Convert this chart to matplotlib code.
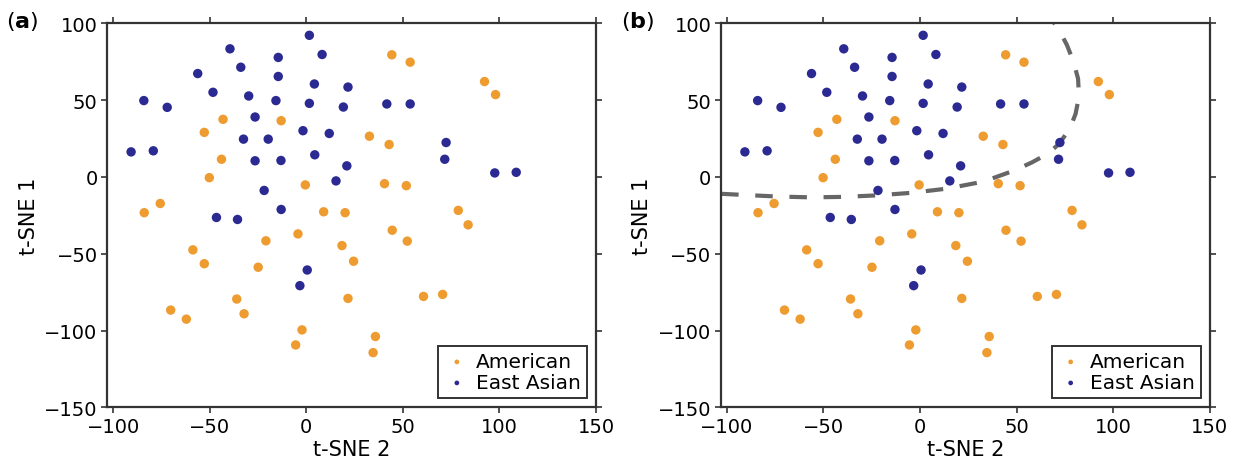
import matplotlib
matplotlib.use("Agg")
import matplotlib.pyplot as plt

plt.rcParams.update({"font.family": ["DejaVu Sans"], "font.size": 14})

# t-SNE coordinates: (t-SNE 2, t-SNE 1)
american_x = [-43.1, -13, -52.8, -43.9, -50.2, -0.5, -75.6, -83.9, 9, 20.1,
              -4.3, -20.9, 18.5, -58.7, -52.8, -24.9, 24.5, 21.6, -36, -70.2,
              -32.2, -62.1, -2.2, -5.5, 78.7, 83.8, 44.5, 52.3, 60.7, 70.6,
              35.8, 34.6, 44.3, 53.8, 92.3, 98, 32.7, 42.9, 40.5, 51.8]
american_y = [37.5, 36.6, 29.0, 11.5, -0.5, -5.2, -17.3, -23.3, -22.7, -23.3,
              -37.1, -41.6, -44.7, -47.5, -56.5, -58.8, -54.9, -79.1, -79.5, -86.7,
              -89.1, -92.6, -99.6, -109.4, -21.8, -31.2, -34.7, -41.8, -77.8, -76.5,
              -103.9, -114.4, 79.5, 74.7, 62.1, 53.6, 26.5, 21.1, -4.4, -5.7]
asian_x = [1.6, -39.5, -14.5, 8.2, -33.9, -56.2, -14.5, 4.2, 21.6, -48.3,
           -29.8, -84.1, -15.7, 1.6, 19.2, -72, -26.5, -1.7, 11.9, -32.5,
           -19.7, -90.7, -79.2, -26.5, -13.1, 4.4, 21, -21.8, 15.4, -13,
           -46.5, -35.6, 0.5, -3.3, 41.7, 53.8, 72.4, 71.7, 97.6, 108.7]
asian_y = [92.2, 83.4, 77.8, 79.7, 71.4, 67.3, 65.4, 60.5, 58.5, 55.1,
           52.7, 49.7, 49.7, 47.9, 45.5, 45.3, 39.0, 30.1, 28.3, 24.6,
           24.6, 16.3, 17.0, 10.5, 10.7, 14.4, 7.2, -8.8, -2.6, -21.2,
           -26.4, -27.7, -60.6, -70.8, 47.5, 47.5, 22.4, 11.5, 2.6, 3.0]

# decision boundary drawn in panel (b)
bound_x = [-103, -90, -75, -57, -40, -22, -4, 14, 33, 49, 58, 66, 72, 77.6,
           80.5, 82.3, 81.8, 79.4, 76, 71.9, 69]
bound_y = [-11, -11.8, -12.7, -13.3, -13, -12, -10.3, -7.6, -3, 4.3, 9.5, 15,
           21.5, 31.6, 41, 52.3, 64, 75.2, 86, 95.8, 101]

c_am = "#EE9B30"
c_as = "#2B2A92"

fig = plt.figure(figsize=(12.38, 4.77), dpi=100)
axes = [fig.add_axes([0.0867, 0.144, 0.3947, 0.805]),
        fig.add_axes([0.5825, 0.144, 0.3947, 0.805])]

for i, ax in enumerate(axes):
    ax.scatter(american_x, american_y, s=46, color=c_am, edgecolors="none",
               label="American", zorder=3)
    ax.scatter(asian_x, asian_y, s=46, color=c_as, edgecolors="none",
               label="East Asian", zorder=3)
    if i == 1:
        ax.plot(bound_x, bound_y, color="#666666", lw=3, dashes=(4.2, 4.0),
                dash_capstyle="butt", zorder=2)
    ax.set_xlim(-103, 150)
    ax.set_ylim(-150, 100)
    ax.set_xticks([-100, -50, 0, 50, 100, 150])
    ax.set_yticks([-150, -100, -50, 0, 50, 100])
    ax.tick_params(direction="out", length=4, width=1.2, color="#333333",
                   top=True, right=True, labelsize=14, pad=3)
    for sp in ax.spines.values():
        sp.set_color("#333333")
        sp.set_linewidth(1.6)
    ax.set_xlabel("t-SNE 2", fontsize=15, labelpad=2)
    ax.set_ylabel("t-SNE 1", fontsize=15, labelpad=4)
    leg = ax.legend(loc="lower right", fontsize=14.5, markerscale=0.5,
                    handletextpad=0.3, borderpad=0.3, labelspacing=0.1,
                    handlelength=1.3, fancybox=False, framealpha=1,
                    borderaxespad=0.45)
    leg.get_frame().set_edgecolor("#333333")
    leg.get_frame().set_linewidth(1.4)

fig.text(0.005, 0.955, r"($\mathbf{a}$)", fontsize=16, va="center")
fig.text(0.502, 0.955, r"($\mathbf{b}$)", fontsize=16, va="center")

fig.savefig("out.png", dpi=100)
